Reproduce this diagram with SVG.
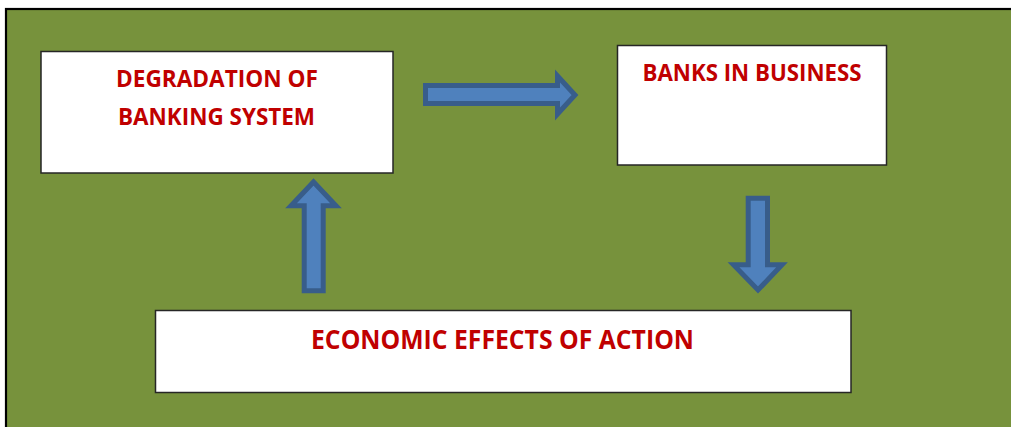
<svg xmlns="http://www.w3.org/2000/svg" width="1011" height="427" viewBox="0 0 1011 427">
  <style>
    .box { fill: #ffffff; stroke: #262626; stroke-width: 1.5; }
    .lbl { font-family: "Open Sans", "Liberation Sans", sans-serif; font-weight: bold; fill: #C00000; text-anchor: middle; }
    .arrow { fill: #4F81BD; stroke: #385D8A; stroke-width: 5; stroke-linejoin: miter; }
  </style>
  <rect x="0" y="0" width="1011" height="427" fill="#ffffff"/>
  <rect x="6" y="9" width="1020" height="430" fill="#77923C" stroke="#000000" stroke-width="2.2"/>

  <g id="node-degradation">
    <rect class="box" x="41" y="51.5" width="352" height="121.5"/>
    <text class="lbl" x="217" y="87" font-size="23" textLength="202" lengthAdjust="spacingAndGlyphs">DEGRADATION OF</text>
    <text class="lbl" x="216.5" y="125" font-size="23" textLength="197" lengthAdjust="spacingAndGlyphs">BANKING SYSTEM</text>
  </g>

  <g id="node-banks">
    <rect class="box" x="617.5" y="45.5" width="269" height="119.5"/>
    <text class="lbl" x="752" y="81" font-size="23" textLength="219" lengthAdjust="spacingAndGlyphs">BANKS IN BUSINESS</text>
  </g>

  <g id="node-economic">
    <rect class="box" x="155.5" y="310.5" width="695.5" height="82"/>
    <text class="lbl" x="502.5" y="349" font-size="26" textLength="383" lengthAdjust="spacingAndGlyphs">ECONOMIC EFFECTS OF ACTION</text>
  </g>

  <g id="connectors">
    <path class="arrow" d="M425.5,85.5 H557.5 V76 L575,95 L557.5,114 V103.5 H425.5 Z"/>
    <path class="arrow" d="M748.2,198.2 H767.5 V264.8 H782 L758,290 L733.5,264.8 H748.2 Z"/>
    <path class="arrow" d="M304.2,290.8 V205.8 H291 L313.5,182 L336,205.8 H323.2 V290.8 Z"/>
  </g>
</svg>
